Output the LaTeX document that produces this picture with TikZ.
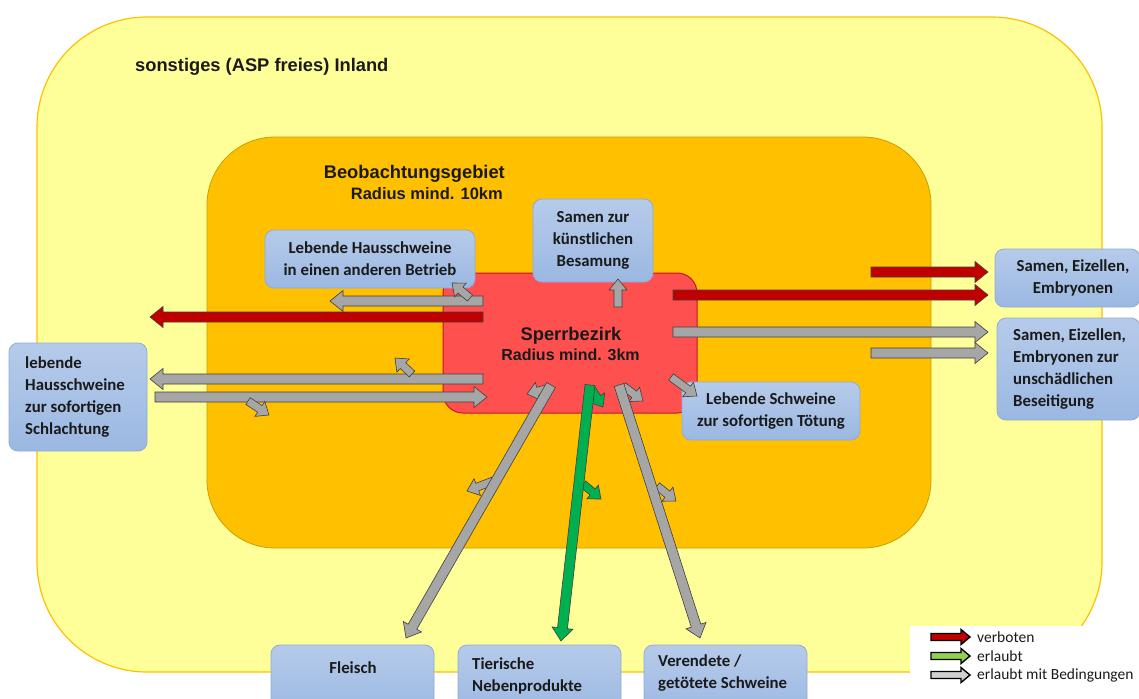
\documentclass[tikz,border=0pt]{standalone}
\usepackage{fontspec}
\setmainfont{Liberation Sans}
\newfontfamily\calfont{Carlito}
\usetikzlibrary{calc}
\definecolor{ylbg}{HTML}{FFFF99}
\definecolor{ylbd}{HTML}{FFC000}
\definecolor{orbg}{HTML}{FFC000}
\definecolor{orbd}{HTML}{C8A000}
\definecolor{rdbg}{HTML}{FF5050}
\definecolor{rdbd}{HTML}{C8102E}
\definecolor{arred}{HTML}{C00000}
\definecolor{argreen}{HTML}{00B050}
\definecolor{argray}{HTML}{A6A6A6}
\definecolor{arline}{HTML}{3F3F3F}
\definecolor{boxtop}{HTML}{B6CBEA}
\definecolor{boxbot}{HTML}{9BB8E2}
\definecolor{boxbd}{HTML}{8FAADC}
\definecolor{lgreen}{HTML}{92D050}
\definecolor{lgray}{HTML}{D0D0D0}
\definecolor{txt}{HTML}{1A1A1A}
\newcommand{\blk}[6]{%
  \coordinate (blkc) at ($(#3)!#6!(#2)$);
  \filldraw[#1] ($(#2)!#4!90:(#3)$) -- ($(blkc)!#4!90:(#3)$) -- ($(blkc)!#5!90:(#3)$) -- (#3) -- ($(blkc)!#5!-90:(#3)$) -- ($(blkc)!#4!-90:(#3)$) -- ($(#2)!#4!-90:(#3)$) -- cycle;}
\newcommand{\arr}[3]{\blk{#1}{#2}{#3}{5pt}{10.5pt}{13pt}}
\newcommand{\sarr}[3]{\blk{#1}{#2}{#3}{4pt}{9pt}{11pt}}
\tikzset{
  gra/.style={fill=argray, draw=arline, line width=0.6pt, line join=miter},
  rda/.style={fill=arred, draw=arline, line width=0.6pt, line join=miter},
  gna/.style={fill=argreen, draw=arline, line width=0.6pt, line join=miter},
  bbox/.style={rounded corners=9pt, draw=boxbd, top color=boxtop, bottom color=boxbot, line width=0.8pt, inner sep=0pt},
  btext/.style={font=\calfont\bfseries\fontsize{16.8}{22}\selectfont, text=txt, inner sep=0pt},
  rtext/.style={font=\bfseries\fontsize{18.3}{20}\selectfont, text=txt, inner sep=0pt},
  lgtext/.style={font=\calfont\fontsize{15.5}{16}\selectfont, text=txt, inner sep=0pt, anchor=west},
}
\begin{document}
\begin{tikzpicture}[x=1pt, y=-1pt]
\useasboundingbox (0,0) rectangle (1139,698);
\clip (0,0) rectangle (1139,698);
\fill[white] (0,0) rectangle (1139,698);
% regions
\draw[fill=ylbg, draw=ylbd, line width=1.2pt, rounded corners=110pt] (37,17) rectangle (1102,672);
\draw[fill=orbg, draw=orbd, line width=0.8pt, rounded corners=68pt] (207,137) rectangle (931,548);
\draw[fill=rdbg, draw=rdbd, line width=1pt, rounded corners=20pt] (443,273) rectangle (697,413);
\node[rtext, anchor=west] (tin) at (135,66.5) {sonstiges (ASP freies) Inland};
\node[rtext, anchor=east] (tbg) at (505,173.5) {Beobachtungsgebiet};
\node[rtext, anchor=east, font=\bfseries\fontsize{16.5}{20}\selectfont] (tbr) at (503,193.5) {Radius mind. 10km};
\node[rtext] (tsp) at (571,335.5) {Sperrbezirk};
\node[rtext, font=\bfseries\fontsize{16}{20}\selectfont] (tsr) at (570.5,354.5) {Radius mind. 3km};
% legend background
\fill[white] (910,626) rectangle (1139,698);
% boxes
\node[bbox, minimum width=210pt, minimum height=58pt] (hb) at (370,259) {};
\node[btext, align=center] (hbt) at (hb.center) {Lebende Hausschweine\\in einen anderen Betrieb};
\node[bbox, minimum width=120pt, minimum height=83pt] (sk) at (593,240.5) {};
\node[btext, align=center] (skt) at (sk.center) {Samen zur\\künstlichen\\Besamung};
\node[bbox, minimum width=145pt, minimum height=58pt] (se1) at (1067.5,278) {};
\node[btext, align=center] (se1t) at (1073,278) {Samen, Eizellen,\\Embryonen};
\node[bbox, minimum width=143pt, minimum height=102pt] (se2) at (1068.5,369) {};
\node[btext, align=left, anchor=west] (se2t) at (1013,369) {Samen, Eizellen,\\Embryonen zur\\unschädlichen\\Beseitigung};
\node[bbox, minimum width=138pt, minimum height=108pt] (lh) at (78,397) {};
\node[btext, align=left, anchor=west] (lht) at (25,397) {lebende\\Hausschweine\\zur sofortigen\\Schlachtung};
\node[bbox, minimum width=178pt, minimum height=58pt] (ls) at (771,411) {};
\node[btext, align=center] (lst) at (ls.center) {Lebende Schweine\\zur sofortigen Tötung};
\node[bbox, minimum width=163pt, minimum height=70pt] (fl) at (352.5,680) {};
\node[btext] (flt) at (353,668) {Fleisch};
\node[bbox, minimum width=163pt, minimum height=70pt] (tn) at (539.5,680) {};
\node[btext, align=left, anchor=west] (tnt) at (472,675.5) {Tierische\\Nebenprodukte};
\node[bbox, minimum width=163pt, minimum height=70pt] (vs) at (725.5,680) {};
\node[btext, align=left, anchor=west] (vst) at (658,673.5) {Verendete /\\getötete Schweine};
% arrow end points
\coordinate (a1s) at (483,301); \coordinate (a1e) at (330,301);
\coordinate (a2s) at (483,317); \coordinate (a2e) at (150,317);
\coordinate (a3s) at (483,379); \coordinate (a3e) at (150,379);
\coordinate (a4s) at (155,397); \coordinate (a4e) at (487,397);
\coordinate (a5s) at (470,298); \coordinate (a5e) at (452,283);
\coordinate (a6s) at (412,374); \coordinate (a6e) at (395,358);
\coordinate (a7s) at (248,401); \coordinate (a7e) at (269,415);
\coordinate (a8s) at (618,307); \coordinate (a8e) at (618,279);
\coordinate (a9s) at (871,272); \coordinate (a9e) at (988,272);
\coordinate (a10s) at (673,295); \coordinate (a10e) at (988,295);
\coordinate (a11s) at (673,332); \coordinate (a11e) at (988,332);
\coordinate (a12s) at (871,353); \coordinate (a12e) at (988,353);
\coordinate (a13s) at (671,377); \coordinate (a13e) at (697,396);
\coordinate (a14s) at (551,385); \coordinate (a14e) at (406,638);
\coordinate (a15s) at (550,388); \coordinate (a15e) at (527,394);
\coordinate (a16s) at (493,481); \coordinate (a16e) at (467,491);
\coordinate (a17s) at (590,385); \coordinate (a17e) at (561,641);
\coordinate (a18s) at (591,388); \coordinate (a18e) at (603,407);
\coordinate (a19s) at (583,484); \coordinate (a19e) at (601,499);
\coordinate (a20s) at (619,385); \coordinate (a20e) at (700,638);
\coordinate (a21s) at (623,386); \coordinate (a21e) at (643,401);
\coordinate (a22s) at (657,486); \coordinate (a22e) at (676,501);
% arrows
\arr{gra}{a1s}{a1e}
\arr{rda}{a2s}{a2e}
\arr{gra}{a3s}{a3e}
\arr{gra}{a4s}{a4e}
\sarr{gra}{a5s}{a5e}
\sarr{gra}{a6s}{a6e}
\sarr{gra}{a7s}{a7e}
\sarr{gra}{a8s}{a8e}
\arr{rda}{a9s}{a9e}
\arr{rda}{a10s}{a10e}
\arr{gra}{a11s}{a11e}
\arr{gra}{a12s}{a12e}
\sarr{gra}{a13s}{a13e}
\sarr{gra}{a15s}{a15e}
\sarr{gra}{a16s}{a16e}
\arr{gra}{a14s}{a14e}
\sarr{gna}{a18s}{a18e}
\sarr{gna}{a19s}{a19e}
\arr{gna}{a17s}{a17e}
\sarr{gra}{a21s}{a21e}
\sarr{gra}{a22s}{a22e}
\arr{gra}{a20s}{a20e}
% legend
\coordinate (l1s) at (931,637); \coordinate (l1e) at (970,637);
\coordinate (l2s) at (931,656); \coordinate (l2e) at (970,656);
\coordinate (l3s) at (931,675); \coordinate (l3e) at (970,675);
\blk{fill=arred, draw=black, line width=1.4pt}{l1s}{l1e}{3.5pt}{7.5pt}{9pt}
\blk{fill=lgreen, draw=black, line width=1.4pt}{l2s}{l2e}{3.5pt}{7.5pt}{9pt}
\blk{fill=lgray, draw=black, line width=1.4pt}{l3s}{l3e}{3.5pt}{7.5pt}{9pt}
\node[lgtext] (lg1) at (977,637) {verboten};
\node[lgtext] (lg2) at (977,656) {erlaubt};
\node[lgtext] (lg3) at (977,675) {erlaubt mit Bedingungen};
\end{tikzpicture}
\end{document}
